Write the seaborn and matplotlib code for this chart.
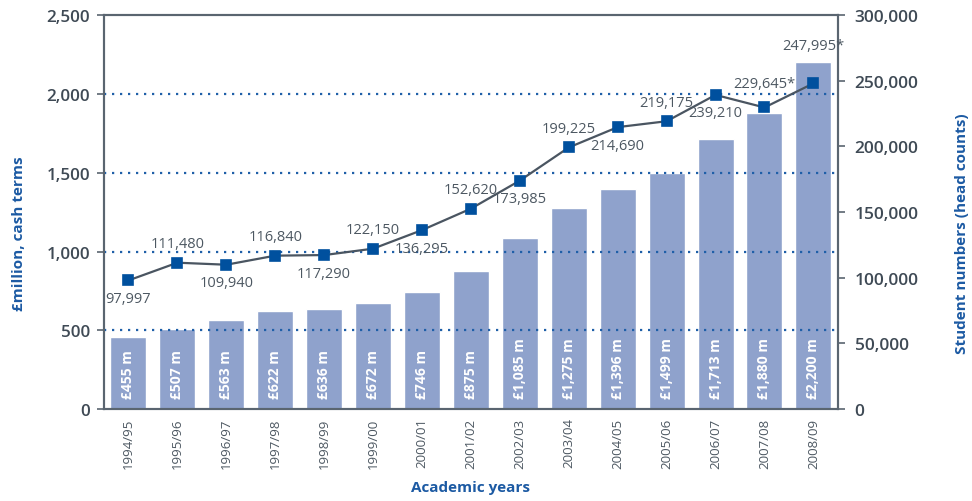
import pandas as pd
import matplotlib.pyplot as plt
import matplotlib.ticker as mticker
import seaborn as sns

# data
years = ['1994/95', '1995/96', '1996/97', '1997/98', '1998/99', '1999/00', '2000/01',
         '2001/02', '2002/03', '2003/04', '2004/05', '2005/06', '2006/07', '2007/08', '2008/09']
funding = [455, 507, 563, 622, 636, 672, 746, 875, 1085, 1275, 1396, 1499, 1713, 1880, 2200]
students = [97997, 111480, 109940, 116840, 117290, 122150, 136295, 152620,
            173985, 199225, 214690, 219175, 239210, 229645, 247995]
suffix = [''] * 13 + ['*', '*']
label_above = [False, True, False, True, False, True, False, True,
               False, True, False, True, False, True, True]

df = pd.DataFrame({'year': years, 'funding': funding, 'students': students})

BAR = '#8fa2cc'
BLUE = '#1c5aa3'
MARK = '#00509e'
LINE = '#4a5561'
TXT = '#3f4a55'

sns.set_style('white')
plt.rcParams['font.family'] = ['Open Sans', 'DejaVu Sans']

fig, ax = plt.subplots(figsize=(9.72, 5.02), dpi=100)
fig.subplots_adjust(left=0.107, right=0.862, top=0.968, bottom=0.183)

sns.barplot(data=df, x='year', y='funding', color=BAR, saturation=1, width=0.735, ax=ax)
ax.set_ylim(0, 2500)
ax.set_xlim(-0.5, len(years) - 0.5)
ax.set_yticks(range(0, 2501, 500))
ax.yaxis.set_major_formatter(mticker.StrMethodFormatter('{x:,.0f}'))

# dotted guide lines on top of the bars
for y in range(500, 2001, 500):
    ax.axhline(y, color='#1f5fa8', linestyle=(0, (1, 2.6)), linewidth=1.6, zorder=3)

# bar value labels
for i, v in enumerate(funding):
    ax.text(i, 72, f'£{v:,} m', rotation=90, ha='center', va='bottom',
            color='white', fontsize=10, fontweight='bold', zorder=4)

ax.tick_params(axis='y', direction='out', length=5, width=1.2, color='#5a6570',
               labelsize=12.3, labelcolor=TXT, pad=5)
for t in ax.get_yticklabels():
    t.set_fontweight('semibold')
ax.tick_params(axis='x', which='major', length=0, labelsize=9.5, labelcolor='#4d5862',
               rotation=90, pad=6)
ax.set_xticks([i - 0.5 for i in range(len(years) + 1)], minor=True)
ax.tick_params(axis='x', which='minor', direction='in', length=6, width=1.2, color='#5a6570')

for s in ax.spines.values():
    s.set_color('#5a6570')
    s.set_linewidth(1.5)

ax.set_xlabel('Academic years', fontsize=11, fontweight='bold', color=BLUE)
ax.xaxis.set_label_coords(0.499, -0.18)
ax.set_ylabel('£million, cash terms', fontsize=11, fontweight='bold', color=BLUE)
ax.yaxis.set_label_coords(-0.106, 0.447)

# student numbers on the right axis
ax2 = ax.twinx()
sns.pointplot(data=df, x='year', y='students', color=LINE, markers='s', errorbar=None,
              markersize=7, linewidth=1.6, ax=ax2)
for ln in ax2.lines:
    ln.set_markerfacecolor(MARK)
    ln.set_markeredgecolor(MARK)
ax2.set_ylim(0, 300000)
ax2.set_xlim(-0.5, len(years) - 0.5)
ax2.set_yticks(range(0, 300001, 50000))
ax2.yaxis.set_major_formatter(mticker.StrMethodFormatter('{x:,.0f}'))
ax2.tick_params(axis='y', direction='out', length=5, width=1.2, color='#5a6570',
                labelsize=12.5, labelcolor=TXT, pad=7)
for t in ax2.get_yticklabels():
    t.set_fontweight('semibold')
for s in ax2.spines.values():
    s.set_color('#5a6570')
    s.set_linewidth(1.5)
ax2.set_xlabel('')
ax2.set_ylabel('Student numbers (head counts)', fontsize=11, fontweight='bold', color=BLUE)
ax2.yaxis.set_label_coords(1.159, 0.447)

for i, (v, sfx, up) in enumerate(zip(students, suffix, label_above)):
    dy = 13.5 if up else -13
    if i == 14:
        dy = 27
    elif i == 13:
        dy = 17
    ax2.annotate(f'{v:,}{sfx}', (i, v), xytext=(0, dy), textcoords='offset points',
                 ha='center', va='center', fontsize=10.5, color='#4d5862')

plt.savefig('out.png', dpi=100)
plt.close()
